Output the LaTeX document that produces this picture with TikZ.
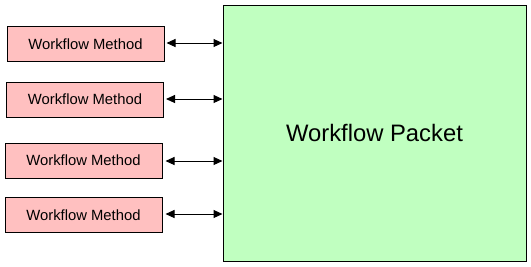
\documentclass[tikz,border=0pt]{standalone}
\usepackage{fontspec}
\setmainfont{Liberation Sans}
\usetikzlibrary{arrows.meta}
\definecolor{methodfill}{HTML}{FFC0C0}
\definecolor{packetfill}{HTML}{C0FFC0}
\begin{document}
\begin{tikzpicture}[x=1pt,y=-1pt,
  methodbox/.style={draw=black, line width=1pt, fill=methodfill, minimum width=157pt, minimum height=35pt, inner sep=0pt, font=\fontsize{14.8}{16}\selectfont},
  packetbox/.style={draw=black, line width=1pt, fill=packetfill, minimum width=303pt, minimum height=256pt, inner sep=0pt, font=\fontsize{23.8}{26}\selectfont},
  link/.style={line width=1pt, {Triangle[length=9pt,width=8pt]}-{Triangle[length=9pt,width=8pt]}}]
  \useasboundingbox (0,0) rectangle (531,266);
  % central packet
  \node[packetbox] (packet) at (374.5,133) {Workflow Packet};
  % methods on the left
  \node[methodbox] (m1) at (85.5,44) {Workflow Method};
  \node[methodbox] (m2) at (85,99.5) {Workflow Method};
  \node[methodbox] (m3) at (83.5,160.5) {Workflow Method};
  \node[methodbox] (m4) at (83.5,215) {Workflow Method};
  % two-way links
  \draw[link] (m1.east) ++(2,-1) -- (packet.west |- 0,43);
  \draw[link] (m2.east) ++(2,-0.5) -- (packet.west |- 0,99);
  \draw[link] (m3.east) ++(3,0.5) -- (packet.west |- 0,161);
  \draw[link] (m4.east) ++(3,-1) -- (packet.west |- 0,214);
\end{tikzpicture}
\end{document}
